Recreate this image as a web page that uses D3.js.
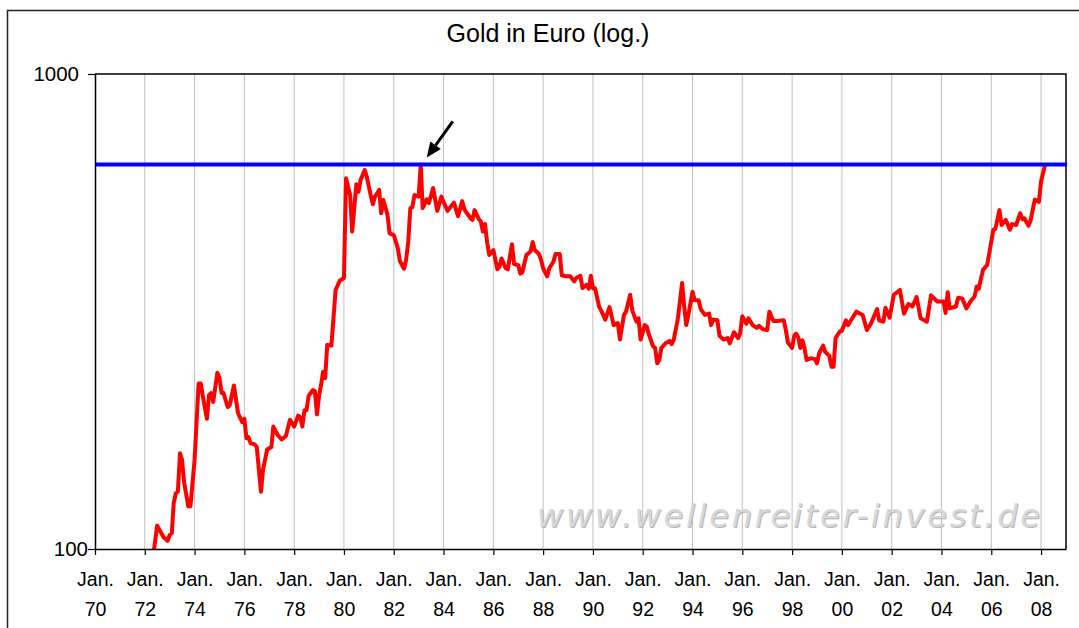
<!DOCTYPE html>
<html>
<head>
<meta charset="utf-8">
<script src="https://cdn.jsdelivr.net/npm/d3@7"></script>
<style>
  body { margin: 0; background: #fff; }
  svg { display: block; font-family: "Liberation Sans", Arial, sans-serif; }
</style>
</head>
<body>
<svg id="chart" width="1079" height="628"></svg>
<script>
const chartTitle = "Gold in Euro (log.)";
const watermark = "www.wellenreiter-invest.de";
const yTicks = [100, 1000];
const xDomain = ["1970-01", "2009-01"];
const resistance = 645;       // old high of Feb. 1983
const arrowTarget = "1983-02";

// monthly gold price in euro
const months = [
  "1972-05","1972-07","1972-10","1972-12","1973-01","1973-02","1973-03","1973-04","1973-05","1973-06",
  "1973-07","1973-08","1973-10","1973-11","1974-01","1974-03","1974-04","1974-05","1974-07","1974-08",
  "1974-09","1974-10","1974-12","1975-01","1975-02","1975-03","1975-05","1975-06","1975-08","1975-10",
  "1975-12","1976-01","1976-02","1976-03","1976-04","1976-06","1976-07","1976-09","1976-10","1976-12",
  "1977-02","1977-03","1977-05","1977-07","1977-09","1977-11","1978-01","1978-03","1978-04","1978-05",
  "1978-06","1978-07","1978-08","1978-10","1978-11","1978-12","1979-01","1979-02","1979-03","1979-04",
  "1979-05","1979-07","1979-09","1979-11","1980-01","1980-02","1980-04","1980-05","1980-07","1980-08",
  "1980-09","1980-11","1980-12","1981-02","1981-03","1981-04","1981-06","1981-07","1981-08","1981-10",
  "1981-11","1982-01","1982-03","1982-04","1982-06","1982-07","1982-08","1982-09","1982-10","1982-11",
  "1983-01","1983-02","1983-03","1983-05","1983-06","1983-08","1983-10","1983-12","1984-01","1984-03",
  "1984-06","1984-08","1984-10","1984-11","1985-02","1985-03","1985-04","1985-06","1985-07","1985-08",
  "1985-09","1985-10","1985-11","1986-01","1986-03","1986-04","1986-05","1986-07","1986-08","1986-10",
  "1986-11","1987-01","1987-02","1987-03","1987-05","1987-07","1987-08","1987-09","1987-11","1987-12",
  "1988-01","1988-03","1988-04","1988-06","1988-07","1988-09","1988-10","1988-12","1989-02","1989-04",
  "1989-05","1989-07","1989-08","1989-10","1989-11","1989-12","1990-01","1990-02","1990-04","1990-05",
  "1990-07","1990-09","1990-11","1991-01","1991-02","1991-04","1991-05","1991-07","1991-08","1991-10",
  "1991-11","1991-12","1992-02","1992-03","1992-04","1992-06","1992-07","1992-08","1992-09","1992-10",
  "1992-12","1993-02","1993-03","1993-04","1993-06","1993-08","1993-09","1993-10","1993-11","1994-01",
  "1994-02","1994-04","1994-05","1994-07","1994-09","1994-10","1994-11","1995-01","1995-02","1995-04",
  "1995-06","1995-07","1995-09","1995-11","1995-12","1996-01","1996-03","1996-04","1996-06","1996-08",
  "1996-09","1996-11","1997-01","1997-02","1997-04","1997-06","1997-09","1997-10","1997-11","1998-01",
  "1998-02","1998-03","1998-04","1998-05","1998-06","1998-07","1998-08","1998-10","1998-12","1999-01",
  "1999-02","1999-04","1999-05","1999-07","1999-08","1999-09","1999-10","1999-12","2000-01","2000-03",
  "2000-04","2000-05","2000-06","2000-08","2000-11","2001-01","2001-03","2001-06","2001-07","2001-09",
  "2001-10","2001-12","2002-02","2002-05","2002-07","2002-09","2002-11","2003-01","2003-03","2003-06",
  "2003-08","2003-11","2004-02","2004-03","2004-04","2004-05","2004-08","2004-09","2004-11","2005-01",
  "2005-03","2005-05","2005-06","2005-07","2005-09","2005-11","2006-02","2006-03","2006-05","2006-06",
  "2006-08","2006-10","2006-11","2007-01","2007-03","2007-04","2007-05","2007-07","2007-08","2007-10",
  "2007-12","2008-01","2008-03"
];
const prices = [
  96,112,106,104,107,108,125,131,132,159,
  154,138,123,123,154,223,223,210,188,211,
  213,204,235,229,213,213,199,201,221,193,
  185,188,171,172,167,166,164,132,147,162,
  164,181,174,170,173,187,181,191,189,181,
  196,196,210,216,215,192,210,222,236,229,
  269,268,351,367,372,603,556,466,586,565,
  598,628,608,552,532,552,570,509,543,505,
  462,458,430,404,389,406,443,522,524,556,
  552,645,522,545,535,575,515,552,538,515,
  536,502,540,519,497,493,517,495,489,466,
  483,443,416,426,388,393,409,390,388,438,
  398,396,380,382,416,423,443,426,418,407,
  390,375,390,403,418,418,377,375,375,366,
  372,376,354,360,353,376,354,354,324,318,
  304,323,296,299,276,311,316,343,318,301,
  306,276,296,294,283,267,265,246,250,265,
  271,274,270,276,306,363,324,296,311,348,
  334,334,320,311,313,296,304,303,281,276,
  278,271,286,278,285,309,298,306,296,292,
  295,290,289,316,302,302,303,289,272,265,
  281,284,279,265,275,265,250,252,251,246,
  258,268,260,255,242,242,278,287,288,303,
  296,301,306,316,311,289,298,320,303,301,
  322,307,343,351,313,328,324,339,306,301,
  342,332,332,314,347,321,324,338,337,321,
  332,340,357,353,387,396,470,472,517,481,
  493,470,483,481,509,495,497,479,492,544,
  538,594,645
];

const parseMonth = d3.timeParse("%Y-%m");
const series = months.map((m, i) => ({ date: parseMonth(m), value: prices[i] }));

const svg = d3.select("#chart");
const plot = { left: 95, right: 1066, top: 74, bottom: 549 };

const x = d3.scaleTime()
  .domain(xDomain.map(parseMonth))
  .range([plot.left, plot.right]);
const y = d3.scaleLog()
  .domain([yTicks[0], yTicks[yTicks.length - 1]])
  .range([plot.bottom, plot.top]);

// outer frame (cut off at right and bottom)
svg.append("rect")
  .attr("x", 7.5).attr("y", 10.5)
  .attr("width", 1200).attr("height", 800)
  .attr("fill", "none")
  .attr("stroke", "#222")
  .attr("stroke-width", 1.5);

svg.append("text")
  .attr("x", 548).attr("y", 42)
  .attr("text-anchor", "middle")
  .attr("font-size", 25)
  .attr("fill", "#000")
  .text(chartTitle);

svg.append("defs").append("clipPath")
  .attr("id", "plot-clip")
  .append("rect")
  .attr("x", plot.left).attr("y", plot.top)
  .attr("width", plot.right - plot.left + 3)
  .attr("height", plot.bottom - plot.top);

let xTickDates = x.ticks(d3.timeYear.every(2));

// vertical gridlines
svg.append("g")
  .selectAll("line")
  .data(xTickDates.slice(1))
  .join("line")
  .attr("x1", (d) => x(d)).attr("x2", (d) => x(d))
  .attr("y1", plot.top).attr("y2", plot.bottom)
  .attr("stroke", "#c0c0c0")
  .attr("stroke-width", 1);

// watermark
let drawWatermark = (dx, dy, color) => {
  svg.append("text")
    .attr("x", 537 + dx).attr("y", 527 + dy)
    .attr("font-family", "'DejaVu Sans', Verdana, sans-serif")
    .attr("font-style", "italic")
    .attr("font-size", 32)
    .attr("textLength", 503)
    .attr("lengthAdjust", "spacing")
    .attr("fill", color)
    .text(watermark);
};
drawWatermark(1, 1, "#b4b4b4");
drawWatermark(0, 0, "#d8d8d8");

// plot border (top and right)
svg.append("path")
  .attr("d", `M${plot.left},${plot.top}H${plot.right}V${plot.bottom}`)
  .attr("fill", "none")
  .attr("stroke", "#000")
  .attr("stroke-width", 1.5);

// gold line
let line = d3.line()
  .x((d) => x(d.date))
  .y((d) => y(d.value));

svg.append("path")
  .datum(series)
  .attr("clip-path", "url(#plot-clip)")
  .attr("d", line)
  .attr("fill", "none")
  .attr("stroke", "#ff0000")
  .attr("stroke-width", 4)
  .attr("stroke-linejoin", "round");

// resistance line
svg.append("line")
  .attr("x1", plot.left).attr("x2", plot.right + 1)
  .attr("y1", y(resistance)).attr("y2", y(resistance))
  .attr("stroke", "#0000ff")
  .attr("stroke-width", 4);

// arrow pointing at the 1983 high
let tipX = x(parseMonth(arrowTarget)) + 6;
let tipY = y(resistance) - 7;
let ang = Math.atan2(tipY - (tipY - 36), tipX - (tipX + 26));
let headLen = 15, headW = 6.5;
let baseX = tipX - headLen * Math.cos(ang), baseY = tipY - headLen * Math.sin(ang);
svg.append("line")
  .attr("x1", tipX + 26).attr("y1", tipY - 36)
  .attr("x2", baseX).attr("y2", baseY)
  .attr("stroke", "#000")
  .attr("stroke-width", 3);
svg.append("path")
  .attr("d", `M${tipX},${tipY}` +
    `L${baseX + headW * Math.sin(ang)},${baseY - headW * Math.cos(ang)}` +
    `L${baseX - headW * Math.sin(ang)},${baseY + headW * Math.cos(ang)}Z`)
  .attr("fill", "#000");

// x axis
let xAxis = d3.axisBottom(x)
  .tickValues(xTickDates)
  .tickSize(6)
  .tickSizeOuter(0)
  .tickFormat("");

let gx = svg.append("g")
  .attr("transform", `translate(0,${plot.bottom})`)
  .call(xAxis);
gx.select(".domain").attr("stroke", "#000").attr("stroke-width", 1.5);
gx.selectAll(".tick line").attr("stroke", "#000").attr("stroke-width", 1.2);

let labels = gx.selectAll(".tick")
  .append("text")
  .attr("fill", "#000")
  .attr("font-size", 19.5)
  .attr("text-anchor", "middle");
labels.append("tspan").attr("x", 0).attr("y", 37).text("Jan.");
labels.append("tspan").attr("x", 0).attr("y", 67).text(d3.timeFormat("%y"));

// y axis
let yAxis = d3.axisLeft(y)
  .tickValues(yTicks)
  .tickSize(7)
  .tickSizeOuter(0)
  .tickFormat(d3.format("d"));

let gy = svg.append("g")
  .attr("transform", `translate(${plot.left},0)`)
  .call(yAxis);
gy.select(".domain").attr("stroke", "#000").attr("stroke-width", 1.5);
gy.selectAll(".tick line").attr("stroke", "#000").attr("stroke-width", 1.2);
gy.selectAll(".tick text")
  .attr("font-size", 20.5)
  .attr("font-family", "'Liberation Sans', Arial, sans-serif")
  .attr("fill", "#000")
  .attr("x", (d) => (d >= 1000 ? -16 : -7));
</script>
</body>
</html>
